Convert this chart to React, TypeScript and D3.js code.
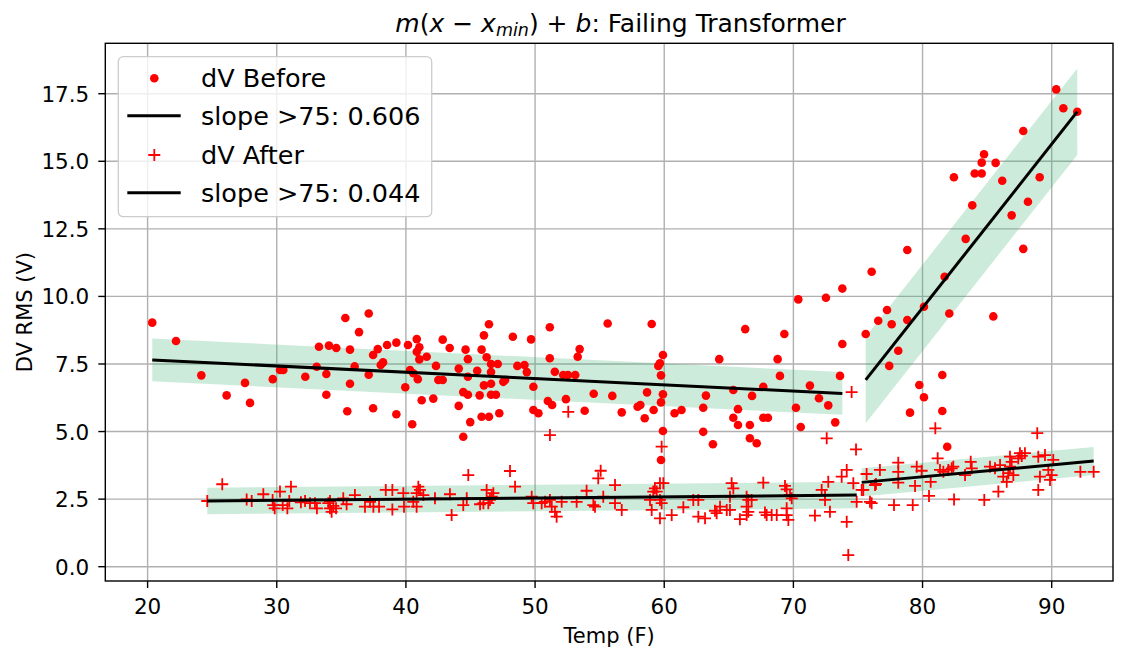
import React from 'react';
import * as d3 from 'd3';

const beforeTemp = [20.36,22.20,24.16,26.12,27.54,27.93,29.69,30.25,30.51,32.21,
33.09,33.27,33.84,33.84,34.04,34.61,35.31,35.46,35.67,35.67,
36.03,36.37,37.12,37.12,37.46,37.46,37.82,38.05,38.23,38.54,
39.26,39.26,39.95,40.16,40.32,40.49,40.57,40.84,40.84,40.92,
41.04,41.04,41.22,41.61,42.12,42.33,42.51,42.85,42.85,43.39,
44.09,44.09,44.44,44.44,44.62,44.80,44.80,44.80,44.98,45.52,
45.71,45.86,45.86,46.04,46.04,46.25,46.43,46.43,46.59,46.59,
46.59,46.59,46.97,47.11,47.23,47.54,47.68,48.28,48.63,49.18,
49.36,49.69,49.87,49.87,50.26,50.99,51.14,51.14,51.32,51.53,
52.18,52.39,52.55,53.11,53.30,53.45,53.84,54.54,55.62,55.98,
56.71,57.94,58.15,58.49,58.67,59.03,59.18,59.54,59.67,59.75,
59.75,59.90,59.90,59.90,59.75,60.80,61.34,63.02,63.02,63.23,
63.77,64.26,65.35,65.35,65.71,65.71,66.27,66.63,66.63,66.80,
67.16,67.67,67.67,68.03,68.78,68.96,69.30,70.20,70.38,70.57,
71.28,71.98,72.52,72.70,73.24,73.61,73.79,73.79,75.60,76.06,
76.57,77.25,77.61,77.42,78.12,78.82,78.82,79.03,79.75,80.11,
80.11,81.53,81.53,81.71,81.91,82.07,82.43,83.34,83.85,84.04,
84.58,84.58,84.76,85.48,85.66,86.17,86.90,87.80,87.80,88.16,
89.07,90.35,90.90,91.98];

const beforeDV = [9.03,8.35,7.08,6.34,6.80,6.06,6.94,7.28,7.28,7.03,
7.40,8.14,7.13,6.36,8.18,8.09,9.20,5.75,8.03,6.77,
7.41,8.68,9.37,7.10,7.83,5.86,8.05,7.46,7.56,8.20,
8.29,5.64,6.64,8.20,7.28,5.27,7.16,8.42,7.95,6.94,
8.12,7.67,6.16,7.77,6.22,7.43,6.91,8.40,6.91,8.09,
7.33,5.95,6.46,4.81,8.03,7.68,7.03,6.36,5.35,7.25,
6.34,8.03,5.55,8.56,6.71,7.75,8.97,5.55,7.50,7.20,
6.77,6.36,6.36,7.50,5.68,6.84,6.91,8.51,7.43,7.46,
7.20,8.41,6.66,5.80,5.68,6.13,8.86,7.71,5.98,7.21,
7.09,6.20,7.09,7.09,7.77,8.05,5.77,6.40,9.00,6.32,
5.71,5.92,5.98,5.49,6.45,8.98,5.80,7.43,7.53,7.08,
6.08,7.83,6.38,5.02,3.95,5.68,5.80,4.99,5.88,6.33,
4.53,7.68,6.54,5.51,5.83,5.24,8.79,5.24,4.75,6.32,
4.57,6.66,5.51,5.51,7.68,7.06,8.61,5.88,9.89,5.17,
6.70,6.23,9.95,5.97,5.34,7.06,10.29,8.24,8.61,10.91,
9.10,9.50,8.97,7.43,7.99,11.72,9.13,5.70,6.72,9.62,
6.27,7.09,5.76,10.73,4.44,9.37,14.41,12.13,13.37,14.55,
14.55,14.95,15.26,9.26,14.94,14.28,13.00,16.12,11.76,13.50,
14.41,17.66,16.96,16.83];

const afterTemp = [24.62,25.78,27.67,28.06,28.96,29.68,29.73,29.84,30.25,30.46,
30.82,31.10,30.97,31.87,32.19,32.57,32.96,33.11,33.99,34.12,
34.25,34.38,34.12,34.59,35.15,35.41,36.05,36.83,37.22,37.48,
37.92,38.44,38.95,38.95,39.80,39.85,40.57,40.83,40.96,41.09,
40.83,41.35,42.25,43.41,43.54,44.44,44.83,44.71,45.74,46.25,
46.38,46.77,46.65,46.00,46.51,48.06,48.45,49.74,49.86,50.51,
50.77,51.15,51.29,51.54,51.67,52.06,52.57,51.15,53.22,53.99,
54.64,54.51,54.89,55.08,55.28,56.19,56.19,56.71,58.90,59.03,
59.15,59.28,59.42,59.67,59.80,59.67,59.80,59.67,59.93,60.58,
61.48,62.25,62.64,62.64,63.16,64.06,64.32,64.84,63.93,65.09,
65.22,65.35,65.09,65.86,66.38,66.51,66.77,66.38,66.51,66.38,
67.67,67.80,67.93,68.32,68.71,69.35,69.48,69.48,69.48,69.61,
69.74,69.87,71.67,72.58,72.19,72.45,72.70,72.45,72.83,73.74,
74.13,74.13,74.25,74.64,74.90,74.85,75.67,75.41,75.93,76.32,
74.51,75.29,76.06,76.39,76.70,77.79,78.12,78.12,78.12,79.24,
79.42,79.55,79.93,80.50,80.63,80.99,81.17,81.35,81.61,82.00,
82.26,82.38,82.44,83.29,83.73,83.81,84.78,85.22,85.61,86.00,
85.87,86.25,86.52,86.64,86.77,86.90,86.77,87.03,87.41,87.68,
87.93,87.54,88.88,88.96,89.48,89.09,88.96,89.74,90.00,89.87,
90.12,92.22,93.25];

const afterDV = [2.43,3.05,2.49,2.43,2.68,2.47,2.28,2.16,2.78,2.28,
2.16,2.96,2.43,2.38,2.43,2.35,2.35,2.16,2.35,2.16,
2.03,2.25,2.43,2.16,2.53,2.31,2.65,2.22,2.40,2.22,
2.22,2.84,2.84,2.12,2.72,2.22,2.40,2.22,2.96,2.84,
2.72,2.65,2.53,2.68,1.91,2.28,3.39,2.53,2.31,2.84,
2.35,2.72,2.59,2.35,2.47,3.54,2.96,2.59,2.35,2.35,
2.40,2.47,2.22,2.03,1.85,2.40,5.73,4.87,2.40,2.81,
2.22,2.28,3.27,3.55,2.59,3.02,2.35,2.10,2.47,2.10,
2.78,2.90,2.78,3.09,4.44,2.47,2.35,1.79,3.09,1.91,
2.20,2.47,2.47,1.85,1.79,1.98,2.22,2.10,2.07,2.10,
3.09,2.90,2.59,1.76,2.59,2.47,2.47,2.22,2.03,1.91,
3.11,2.01,1.91,1.91,1.91,2.99,2.86,2.16,1.91,1.73,
2.65,2.53,1.89,4.75,2.84,2.65,3.14,2.47,2.03,3.33,
3.58,1.66,0.43,3.09,2.40,4.34,3.43,2.84,2.40,3.02,
6.46,2.84,2.35,3.06,3.58,2.28,3.85,3.51,3.11,2.28,
2.99,3.70,3.55,2.62,3.14,5.12,4.01,3.58,3.51,3.58,
3.64,3.70,2.49,3.39,3.88,3.64,2.47,3.70,3.64,3.76,
2.78,3.33,3.14,3.46,3.70,3.88,4.07,3.39,4.01,4.10,
4.20,4.20,4.94,4.07,4.13,3.33,2.84,3.58,3.39,3.21,
3.95,3.51,3.51];

const splitTemp = 75;
// fits per segment: [below split, above split], y = m (x - xmin) + b
const beforeFitSlope = [-0.0232, 0.606];
const beforeFitIntercept = [7.65, 6.91];
const beforeBandHalf = [0.79, 1.6];
const afterFitSlope = [0.0044, 0.044];
const afterFitIntercept = [2.43, 3.12];
const afterBandHalf = [0.49, 0.52];

const xTicks = [20, 30, 40, 50, 60, 70, 80, 90];
const yTicks = [0, 2.5, 5, 7.5, 10, 12.5, 15, 17.5];
const legendLabels = ['dV Before', 'slope >75: 0.606', 'dV After', 'slope >75: 0.044'];

const W = 1130, H = 648;
const L = 105.3, R = 1113, T = 43.3, B = 581;
const FONT = 'DejaVu Sans, sans-serif';

function segments(xs: number[], m: number[], b: number[], h: number[]) {
  const groups = [
    xs.filter((x) => x < splitTemp),
    xs.filter((x) => x >= splitTemp),
  ];
  return groups.map((g, i) => {
    const x0 = d3.min(g) as number;
    const x1 = d3.max(g) as number;
    return [x0, x1].map((x) => ({ x, y: m[i] * (x - x0) + b[i], h: h[i] }));
  });
}

export default function App() {
  const x = d3.scaleLinear().domain([16.725, 94.746]).range([L, R]);
  const y = d3.scaleLinear().domain([-0.529, 19.365]).range([B, T]);

  const segs = [
    ...segments(beforeTemp, beforeFitSlope, beforeFitIntercept, beforeBandHalf),
    ...segments(afterTemp, afterFitSlope, afterFitIntercept, afterBandHalf),
  ];
  const area = d3.area<{ x: number; y: number; h: number }>()
    .x((d) => x(d.x)).y0((d) => y(d.y - d.h)).y1((d) => y(d.y + d.h));
  const line = d3.line<{ x: number; y: number; h: number }>()
    .x((d) => x(d.x)).y((d) => y(d.y));

  const ps = 6;
  const plus = (cx: number, cy: number, k: number) => (
    <path key={k} d={`M${cx - ps},${cy}H${cx + ps}M${cx},${cy - ps}V${cy + ps}`} stroke="red" strokeWidth={1.8} fill="none" />
  );

  return (
    <svg width={W} height={H} style={{ position: 'absolute', left: 0, top: 0, background: '#fff' }} fontFamily={FONT}>
      <rect x={0} y={0} width={W} height={H} fill="#fff" />
      <g stroke="#b0b0b0" strokeWidth={1.4}>
        {xTicks.map((t) => <line key={'gx' + t} x1={x(t)} x2={x(t)} y1={T} y2={B} />)}
        {yTicks.map((t) => <line key={'gy' + t} x1={L} x2={R} y1={y(t)} y2={y(t)} />)}
      </g>
      {segs.map((s, i) => (
        <path key={'band' + i} d={area(s) as string} fill="#3cb371" fillOpacity={0.26} />
      ))}
      <g fill="red">
        {beforeTemp.map((t, i) => <circle key={'b' + i} cx={x(t)} cy={y(beforeDV[i])} r={4.3} />)}
      </g>
      <g>{afterTemp.map((t, i) => plus(x(t), y(afterDV[i]), i))}</g>
      {segs.map((s, i) => (
        <path key={'line' + i} d={line(s) as string} stroke="#000" strokeWidth={3} fill="none" />
      ))}
      <rect x={L} y={T} width={R - L} height={B - T} fill="none" stroke="#000" strokeWidth={1.4} />
      <g stroke="#000" strokeWidth={1.4}>
        {xTicks.map((t) => <line key={'tx' + t} x1={x(t)} x2={x(t)} y1={B} y2={B + 7} />)}
        {yTicks.map((t) => <line key={'ty' + t} x1={L - 7} x2={L} y1={y(t)} y2={y(t)} />)}
      </g>
      <g fontSize={21.5} fill="#000">
        {xTicks.map((t) => (
          <text key={'lx' + t} x={x(t)} y={614} textAnchor="middle">{t}</text>
        ))}
        {yTicks.map((t) => (
          <text key={'ly' + t} x={L - 16} y={y(t) + 8} textAnchor="end">{t.toFixed(1)}</text>
        ))}
      </g>
      <text x={(L + R) / 2} y={643} textAnchor="middle" fontSize={21}>Temp (F)</text>
      <text transform={`translate(32,${(T + B) / 2}) rotate(-90)`} textAnchor="middle" fontSize={21}>DV RMS (V)</text>
      <text x={620.5} y={31.5} textAnchor="middle" fontSize={25}>
        <tspan fontStyle="italic">m</tspan>
        <tspan>(</tspan>
        <tspan fontStyle="italic">x</tspan>
        <tspan> − </tspan>
        <tspan fontStyle="italic">x</tspan>
        <tspan fontStyle="italic" fontSize={17.5} dy={4.5}>min</tspan>
        <tspan dy={-4.5}>) + </tspan>
        <tspan fontStyle="italic">b</tspan>
        <tspan>: Failing Transformer</tspan>
      </text>
      <rect x={118.3} y={56.7} width={313.4} height={160} rx={5} fill="#fff" fillOpacity={0.8} stroke="#cccccc" strokeWidth={1.3} />
      <circle cx={154.3} cy={78.3} r={4.3} fill="red" />
      <line x1={127.3} x2={180.7} y1={115.7} y2={115.7} stroke="#000" strokeWidth={3} />
      {plus(154.3, 155, -1)}
      <line x1={127.3} x2={180.7} y1={192.7} y2={192.7} stroke="#000" strokeWidth={3} />
      <g fontSize={25.5} fill="#000">
        {legendLabels.map((l, i) => (
          <text key={'leg' + i} x={201} y={86.7 + i * 38.4}>{l}</text>
        ))}
      </g>
    </svg>
  );
}
